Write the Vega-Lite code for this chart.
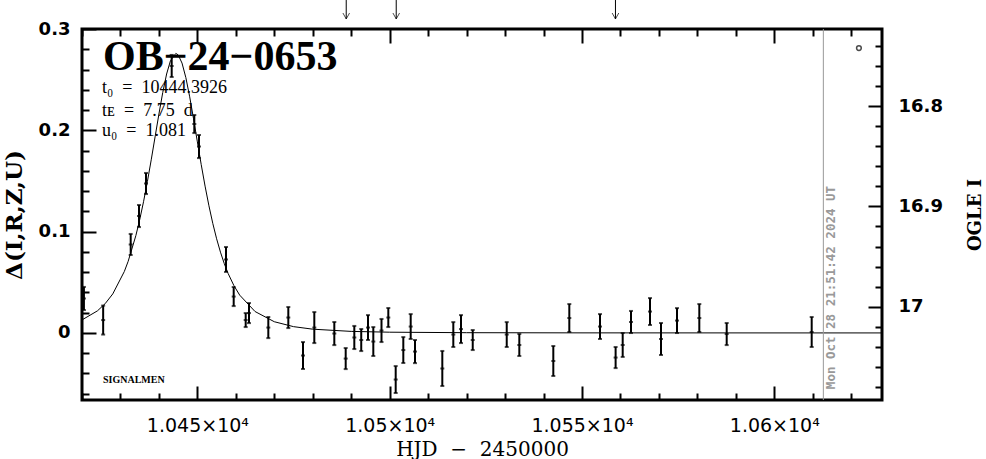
{
  "$schema": "https://vega.github.io/schema/vega-lite/v6.json",
  "width": 800,
  "height": 371,
  "autosize": {"type": "none"},
  "padding": {"left": 82, "top": 29, "right": 104, "bottom": 59},
  "background": "white",
  "config": {
    "view": {"stroke": "black", "strokeWidth": 3},
    "axis": {"domain": false, "grid": false, "tickColor": "black", "tickWidth": 2, "labelColor": "black", "titleColor": "black", "labelFlush": false, "labelOverlap": false}
  },
  "datasets": {
    "obs": [
      {"t": 10420.5, "d": 0.0340, "e": 0.0114},
      {"t": 10425.5, "d": 0.0127, "e": 0.0143},
      {"t": 10432.66, "d": 0.0873, "e": 0.0104},
      {"t": 10434.82, "d": 0.1154, "e": 0.0109},
      {"t": 10436.64, "d": 0.1475, "e": 0.0104},
      {"t": 10443.32, "d": 0.2635, "e": 0.0109},
      {"t": 10449.2, "d": 0.2062, "e": 0.0089},
      {"t": 10450.42, "d": 0.1840, "e": 0.0114},
      {"t": 10457.44, "d": 0.0725, "e": 0.0123},
      {"t": 10459.44, "d": 0.0359, "e": 0.0094},
      {"t": 10462.56, "d": 0.0127, "e": 0.0069},
      {"t": 10463.42, "d": 0.0196, "e": 0.0099},
      {"t": 10468.44, "d": 0.0053, "e": 0.0104},
      {"t": 10473.64, "d": 0.0152, "e": 0.0104},
      {"t": 10477.46, "d": -0.0223, "e": 0.0133},
      {"t": 10480.4, "d": 0.0053, "e": 0.0153},
      {"t": 10485.6, "d": -0.0006, "e": 0.0114},
      {"t": 10488.56, "d": -0.0253, "e": 0.0104},
      {"t": 10490.8, "d": -0.0045, "e": 0.0114},
      {"t": 10492.6, "d": -0.0070, "e": 0.0109},
      {"t": 10494.36, "d": 0.0053, "e": 0.0123},
      {"t": 10495.74, "d": -0.0085, "e": 0.0143},
      {"t": 10497.87, "d": 0.0024, "e": 0.0114},
      {"t": 10499.64, "d": 0.0152, "e": 0.0094},
      {"t": 10501.56, "d": -0.0460, "e": 0.0133},
      {"t": 10503.54, "d": -0.0169, "e": 0.0128},
      {"t": 10505.46, "d": 0.0063, "e": 0.0123},
      {"t": 10506.58, "d": -0.0184, "e": 0.0114},
      {"t": 10513.68, "d": -0.0351, "e": 0.0173},
      {"t": 10516.54, "d": -0.0016, "e": 0.0123},
      {"t": 10518.54, "d": 0.0038, "e": 0.0138},
      {"t": 10521.59, "d": -0.0070, "e": 0.0099},
      {"t": 10530.43, "d": -0.0016, "e": 0.0123},
      {"t": 10533.7, "d": -0.0119, "e": 0.0109},
      {"t": 10542.54, "d": -0.0277, "e": 0.0148},
      {"t": 10546.7, "d": 0.0147, "e": 0.0138},
      {"t": 10554.68, "d": 0.0063, "e": 0.0123},
      {"t": 10558.74, "d": -0.0243, "e": 0.0104},
      {"t": 10560.58, "d": -0.0119, "e": 0.0118},
      {"t": 10562.74, "d": 0.0108, "e": 0.0109},
      {"t": 10567.68, "d": 0.0211, "e": 0.0133},
      {"t": 10570.54, "d": -0.0060, "e": 0.0158},
      {"t": 10574.7, "d": 0.0122, "e": 0.0123},
      {"t": 10580.5, "d": 0.0147, "e": 0.0138},
      {"t": 10587.62, "d": -0.0011, "e": 0.0109},
      {"t": 10609.72, "d": 0.0009, "e": 0.0148}
    ],
    "model": [
      {"t": 10420, "d": 0.01285},
      {"t": 10424, "d": 0.02175},
      {"t": 10426, "d": 0.02879},
      {"t": 10428, "d": 0.03851},
      {"t": 10431, "d": 0.06058},
      {"t": 10432, "d": 0.07064},
      {"t": 10434, "d": 0.09604},
      {"t": 10435, "d": 0.11172},
      {"t": 10436, "d": 0.12951},
      {"t": 10437, "d": 0.14932},
      {"t": 10438, "d": 0.17085},
      {"t": 10439, "d": 0.19346},
      {"t": 10440, "d": 0.21614},
      {"t": 10441, "d": 0.23743},
      {"t": 10442, "d": 0.25557},
      {"t": 10443, "d": 0.26871},
      {"t": 10444.39, "d": 0.27588},
      {"t": 10445, "d": 0.27449},
      {"t": 10446, "d": 0.26639},
      {"t": 10447, "d": 0.25203},
      {"t": 10448, "d": 0.23306},
      {"t": 10449, "d": 0.21133},
      {"t": 10450, "d": 0.18856},
      {"t": 10451, "d": 0.16610},
      {"t": 10452, "d": 0.14491},
      {"t": 10453, "d": 0.12550},
      {"t": 10454, "d": 0.10818},
      {"t": 10455, "d": 0.09294},
      {"t": 10456, "d": 0.07972},
      {"t": 10457, "d": 0.06835},
      {"t": 10458, "d": 0.05862},
      {"t": 10459.5, "d": 0.04667},
      {"t": 10461, "d": 0.03731},
      {"t": 10465, "d": 0.02112},
      {"t": 10470, "d": 0.01106},
      {"t": 10475, "d": 0.00620},
      {"t": 10480, "d": 0.00370},
      {"t": 10490, "d": 0.00152},
      {"t": 10500, "d": 0.00073},
      {"t": 10520, "d": 0.00023},
      {"t": 10550, "d": 0.00006},
      {"t": 10628, "d": 0}
    ],
    "arrows": [
      {"t": 10488.7},
      {"t": 10501.7},
      {"t": 10558.7}
    ],
    "one": [{}]
  },
  "layer": [
    {
      "layer": [
        {
          "data": {"name": "model"},
          "mark": {"type": "line", "color": "black", "strokeWidth": 1, "clip": true},
          "encoding": {
            "x": {
              "field": "t", "type": "quantitative",
              "title": "HJD\u00a0\u00a0−\u00a0\u00a02450000",
              "scale": {"domain": [10420, 10628], "nice": false, "zero": false},
              "axis": {
                "orient": "bottom",
                "values": [10450, 10500, 10550, 10600],
                "tickSize": -14,
                "labelExpr": "(datum.value / 10000) + '×10⁴'",
                "labelOverlap": false,
                "labelFont": "DejaVu Sans",
                "labelFontSize": 19,
                "labelPadding": 30,
                "titleFont": "DejaVu Serif",
                "titleFontSize": 20,
                "titleFontWeight": "normal",
                "titlePadding": 4
              }
            },
            "y": {
              "field": "d", "type": "quantitative",
              "title": "Δ(I,R,Z,U)",
              "scale": {"domain": [-0.0662, 0.3], "nice": false, "zero": false},
              "axis": {
                "orient": "left",
                "values": [0, 0.1, 0.2, 0.3],
                "tickSize": -14,
                "labelExpr": "format(datum.value, '.1~f')",
                "labelOverlap": false,
                "labelFont": "DejaVu Sans",
                "labelFontWeight": "bold",
                "labelFontSize": 18,
                "labelPadding": 26,
                "titleFont": "DejaVu Serif",
                "titleFontWeight": "bold",
                "titleFontSize": 23,
                "titlePadding": 12
              }
            }
          }
        },
        {
          "data": {"name": "obs"},
          "mark": {"type": "errorbar", "ticks": {"size": 4}, "thickness": 2, "color": "black"},
          "encoding": {
            "x": {"field": "t", "type": "quantitative", "title": "HJD\u00a0\u00a0−\u00a0\u00a02450000"},
            "y": {"field": "d", "type": "quantitative", "title": "Δ(I,R,Z,U)"},
            "yError": {"field": "e"}
          }
        },
        {
          "data": {"name": "obs"},
          "mark": {"type": "tick", "orient": "horizontal", "size": 4, "thickness": 2, "color": "black"},
          "encoding": {
            "x": {"field": "t", "type": "quantitative", "title": "HJD\u00a0\u00a0−\u00a0\u00a02450000"},
            "y": {"field": "d", "type": "quantitative", "title": "Δ(I,R,Z,U)"}
          }
        },
        {
          "data": {"name": "arrows"},
          "mark": {"type": "rule", "color": "black", "strokeWidth": 1, "clip": false},
          "encoding": {
            "x": {"field": "t", "type": "quantitative", "title": "HJD\u00a0\u00a0−\u00a0\u00a02450000"},
            "y": {"datum": 0.3286},
            "y2": {"datum": 0.3099}
          }
        },
        {
          "data": {"name": "arrows"},
          "mark": {"type": "point", "shape": "M-1,-1.8L0,0L1,-1.8", "size": 44, "filled": false, "color": "black", "strokeWidth": 1, "clip": false},
          "encoding": {
            "x": {"field": "t", "type": "quantitative", "title": "HJD\u00a0\u00a0−\u00a0\u00a02450000"},
            "y": {"datum": 0.3099}
          }
        },
        {
          "data": {"name": "one"},
          "mark": {"type": "rule", "color": "#999999", "strokeWidth": 1},
          "encoding": {"x": {"datum": 10612.75}}
        },
        {
          "data": {"name": "one"},
          "mark": {"type": "text", "text": "Mon Oct 28 21:51:42 2024 UT", "angle": 270, "align": "center", "baseline": "middle", "font": "DejaVu Sans Mono", "fontWeight": "bold", "fontSize": 12.5, "color": "#999999"},
          "encoding": {"x": {"datum": 10614.8}, "y": {"datum": 0.0448}}
        },
        {
          "data": {"name": "one"},
          "mark": {"type": "point", "shape": "circle", "size": 22, "filled": false, "color": "black", "strokeWidth": 1.5},
          "encoding": {"x": {"datum": 10622.0}, "y": {"datum": 0.2812}}
        },
        {
          "data": {"name": "one"},
          "mark": {"type": "text", "text": "OB−24−0653", "align": "left", "baseline": "middle", "font": "Liberation Serif", "fontWeight": "bold", "fontSize": 42, "color": "black"},
          "encoding": {"x": {"datum": 10425.46}, "y": {"datum": 0.2724}}
        },
        {
          "data": {"name": "one"},
          "mark": {"type": "text", "text": "t₀\u00a0\u00a0=\u00a0\u00a010444.3926", "align": "left", "baseline": "middle", "font": "Liberation Serif", "fontSize": 18, "color": "black"},
          "encoding": {"x": {"datum": 10425.2}, "y": {"datum": 0.2417}}
        },
        {
          "data": {"name": "one"},
          "mark": {"type": "text", "text": "tᴇ\u00a0\u00a0=\u00a0\u00a07.75\u00a0\u00a0d", "align": "left", "baseline": "middle", "font": "Liberation Serif", "fontSize": 18, "color": "black"},
          "encoding": {"x": {"datum": 10425.2}, "y": {"datum": 0.219}}
        },
        {
          "data": {"name": "one"},
          "mark": {"type": "text", "text": "u₀\u00a0\u00a0=\u00a0\u00a01.081", "align": "left", "baseline": "middle", "font": "Liberation Serif", "fontSize": 18, "color": "black"},
          "encoding": {"x": {"datum": 10425.2}, "y": {"datum": 0.1998}}
        },
        {
          "data": {"name": "one"},
          "mark": {"type": "text", "text": "SIGNALMEN", "align": "left", "baseline": "middle", "font": "Liberation Serif", "fontWeight": "bold", "fontSize": 10, "color": "black"},
          "encoding": {"x": {"datum": 10425.46}, "y": {"datum": -0.0465}}
        }
      ]
    },
    {
      "data": {"values": [{"t": 10420, "m": 16.8}]},
      "mark": {"type": "point", "opacity": 0},
      "encoding": {
        "x": {
          "field": "t", "type": "quantitative",
          "axis": {
            "orient": "top",
            "values": [10420, 10430, 10440, 10450, 10460, 10470, 10480, 10490, 10500, 10510, 10520, 10530, 10540, 10550, 10560, 10570, 10580, 10590, 10600, 10610, 10620],
            "tickSize": {"condition": {"test": "datum.value % 50 === 0", "value": -14}, "value": -7},
            "labels": false,
            "title": null
          }
        },
        "y": {
          "field": "m", "type": "quantitative",
          "scale": {"domain": [17.093, 16.7232], "nice": false, "zero": false},
          "axis": {
            "orient": "right",
            "values": [16.74, 16.76, 16.78, 16.8, 16.82, 16.84, 16.86, 16.88, 16.9, 16.92, 16.94, 16.96, 16.98, 17, 17.02, 17.04, 17.06, 17.08],
            "tickSize": {"condition": {"test": "abs(datum.value * 10 - round(datum.value * 10)) < 0.001", "value": -14}, "value": -7},
            "labelExpr": "abs(datum.value * 10 - round(datum.value * 10)) < 0.001 ? format(datum.value, '.1~f') : ' '",
            "labelOverlap": false,
            "labelFont": "DejaVu Sans",
            "labelFontWeight": "bold",
            "labelFontSize": 18,
            "labelPadding": 30,
            "title": "OGLE I",
            "titleAngle": 270,
            "titleFont": "DejaVu Serif",
            "titleFontWeight": "bold",
            "titleFontSize": 18,
            "titlePadding": 42
          }
        }
      }
    },
    {
      "data": {"values": [{"t": 10420, "d": 0}]},
      "mark": {"type": "point", "opacity": 0},
      "encoding": {
        "x": {
          "field": "t", "type": "quantitative",
          "axis": {
            "orient": "bottom",
            "values": [10420, 10430, 10440, 10460, 10470, 10480, 10490, 10510, 10520, 10530, 10540, 10560, 10570, 10580, 10590, 10610, 10620],
            "tickSize": -7,
            "labels": false,
            "title": null
          }
        },
        "y": {
          "field": "d", "type": "quantitative",
          "scale": {"domain": [-0.0662, 0.3], "nice": false, "zero": false},
          "axis": {
            "orient": "left",
            "values": [-0.06, -0.04, -0.02, 0.02, 0.04, 0.06, 0.08, 0.12, 0.14, 0.16, 0.18, 0.22, 0.24, 0.26, 0.28],
            "tickSize": -7,
            "labels": false,
            "title": null
          }
        }
      }
    }
  ],
  "resolve": {"scale": {"y": "independent"}, "axis": {"x": "independent", "y": "independent"}}
}
